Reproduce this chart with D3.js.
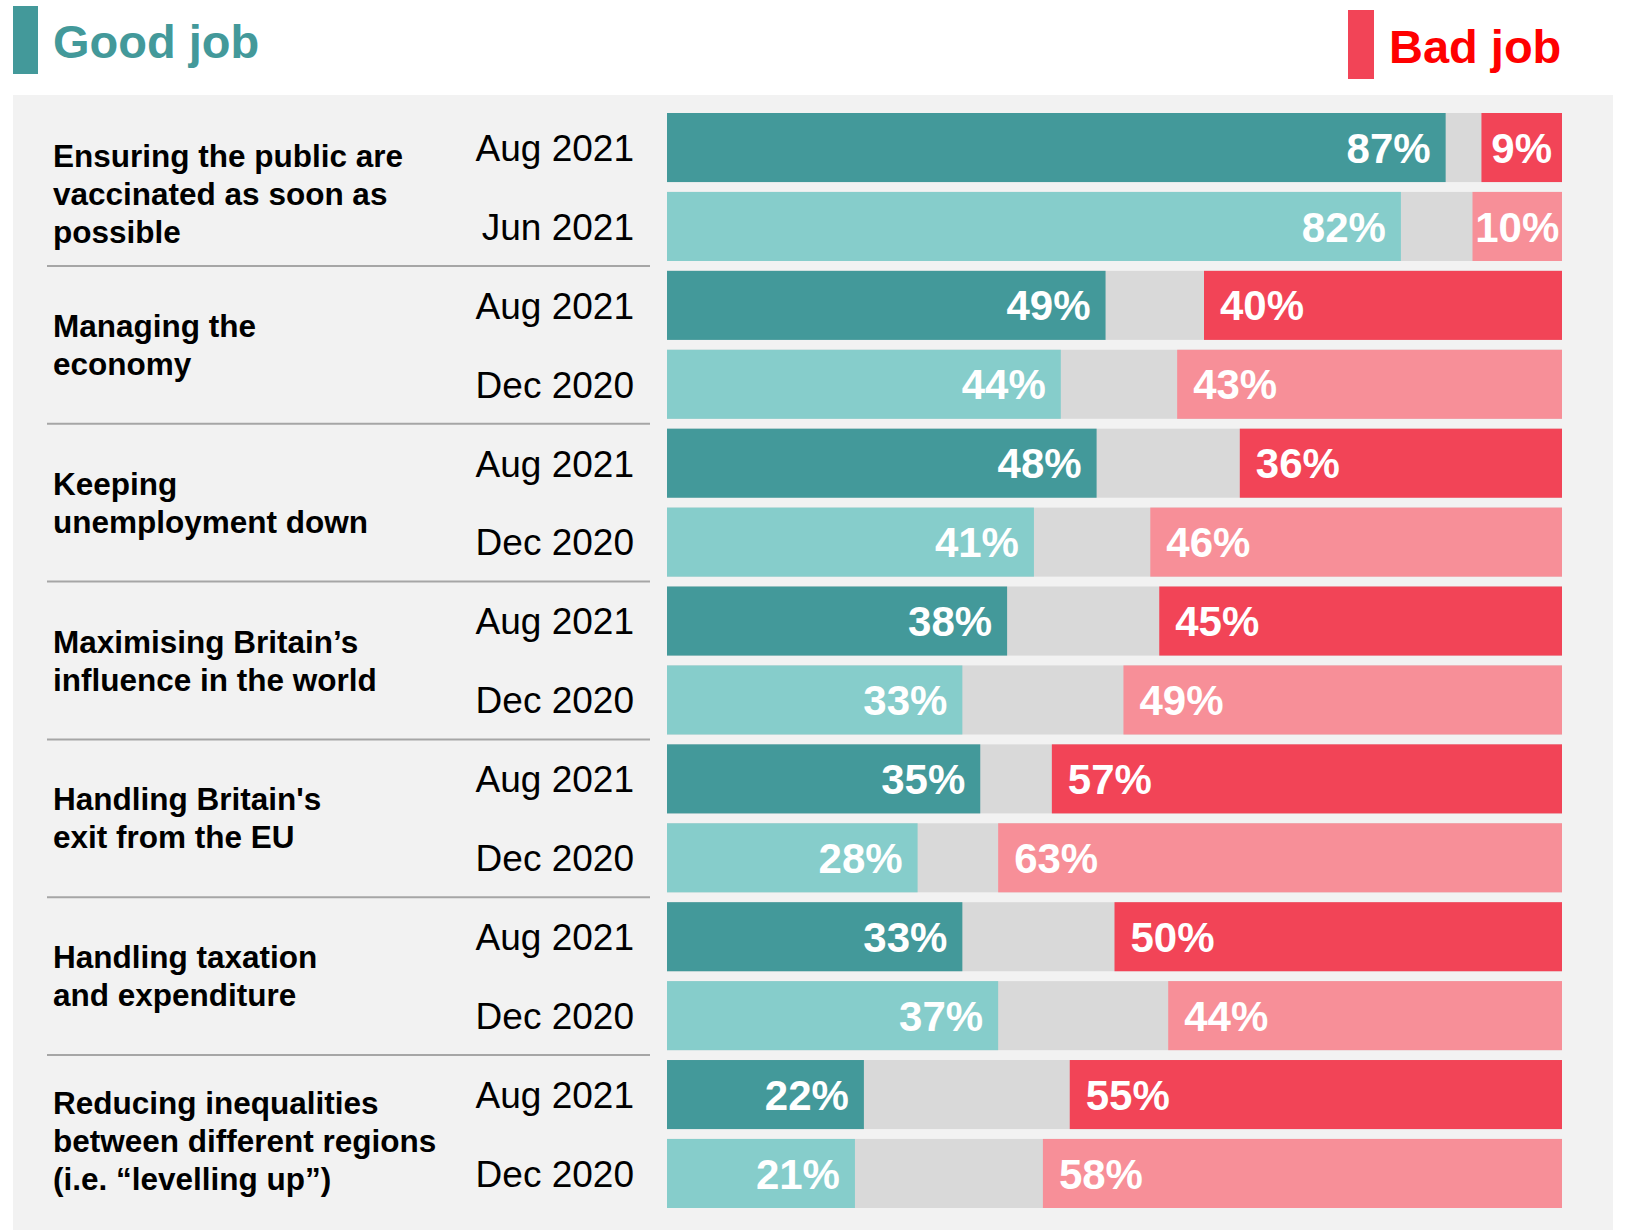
<!DOCTYPE html>
<html><head><meta charset="utf-8">
<script src="https://cdn.jsdelivr.net/npm/d3@7"></script>
<style>body{margin:0;background:#fff}svg{display:block}</style>
</head><body>
<svg id="c" width="1626" height="1230" font-family="Arial, 'Liberation Sans', Helvetica, sans-serif"></svg>
<script>
const categories = [
  ["Ensuring the public are","vaccinated as soon as","possible"],
  ["Managing the","economy"],
  ["Keeping","unemployment down"],
  ["Maximising Britain’s","influence in the world"],
  ["Handling Britain's","exit from the EU"],
  ["Handling taxation","and expenditure"],
  ["Reducing inequalities","between different regions","(i.e. “levelling up”)"]
];
const latestWave = ["Aug 2021","Aug 2021","Aug 2021","Aug 2021","Aug 2021","Aug 2021","Aug 2021"];
const earlierWave = ["Jun 2021","Dec 2020","Dec 2020","Dec 2020","Dec 2020","Dec 2020","Dec 2020"];
const goodLatest = [87,49,48,38,35,33,22];
const badLatest  = [9,40,36,45,57,50,55];
const goodEarlier = [82,44,41,33,28,37,21];
const badEarlier  = [10,43,46,49,63,44,58];

const rows = [];
categories.forEach((c,i)=>{
  rows.push({id:i+"a", cat:i, wave:latestWave[i], good:goodLatest[i], bad:badLatest[i], latest:true});
  rows.push({id:i+"b", cat:i, wave:earlierWave[i], good:goodEarlier[i], bad:badEarlier[i], latest:false});
});

const C = {goodD:"#43999A", goodL:"#86CDCB", badD:"#F24457", badL:"#F78F98", neither:"#D9D9D9", panel:"#F2F2F2", sep:"#A6A6A6"};
const svg = d3.select("#c");
const x = d3.scaleLinear().domain([0,100]).range([667,1562]);
const y = d3.scaleBand().domain(rows.map(r=>r.id)).range([113,1208]).paddingInner(0.125).paddingOuter(0);
const bw = y.bandwidth();

// legend
svg.append("rect").attr("x",13).attr("y",6).attr("width",25).attr("height",68).attr("fill",C.goodD);
svg.append("text").attr("x",53).attr("y",58).attr("font-size",47).attr("font-weight","bold").attr("fill",C.goodD).text("Good job");
svg.append("rect").attr("x",1348).attr("y",10).attr("width",26).attr("height",69).attr("fill",C.badD);
svg.append("text").attr("x",1389).attr("y",63).attr("font-size",47).attr("font-weight","bold").attr("fill","#FF0000").text("Bad job");

// panel
svg.append("rect").attr("x",13).attr("y",95).attr("width",1600).attr("height",1135).attr("fill",C.panel);

// separators
for(let i=0;i<categories.length-1;i++){
  const yy = (y(i+"b")+bw + y((i+1)+"a"))/2;
  svg.append("line").attr("x1",47).attr("x2",650).attr("y1",yy).attr("y2",yy).attr("stroke",C.sep).attr("stroke-width",2);
}

// category labels
categories.forEach((lines,i)=>{
  const cy = (y(i+"a") + y(i+"b")+bw)/2 + (lines.length-2)*7;
  const lh = 38;
  const t = svg.append("text").attr("x",53).attr("font-size",31.5).attr("font-weight","bold").attr("fill","#000");
  lines.forEach((l,k)=>{
    t.append("tspan").attr("x",53).attr("y", cy + (k-(lines.length-1)/2)*lh + 11).text(l);
  });
});

// rows
const g = svg.append("g").selectAll("g").data(rows).join("g");
g.append("rect").attr("x",x(0)).attr("y",d=>y(d.id)).attr("width",x(100)-x(0)).attr("height",bw).attr("fill",C.neither);
g.append("rect").attr("x",x(0)).attr("y",d=>y(d.id)).attr("width",d=>x(d.good)-x(0)).attr("height",bw).attr("fill",d=>d.latest?C.goodD:C.goodL);
g.append("rect").attr("x",d=>x(100-d.bad)).attr("y",d=>y(d.id)).attr("width",d=>x(100)-x(100-d.bad)).attr("height",bw).attr("fill",d=>d.latest?C.badD:C.badL);

g.append("text").attr("x",634).attr("y",d=>y(d.id)+bw/2).attr("dy","0.36em").attr("text-anchor","end")
  .attr("font-size",37).attr("fill","#000").text(d=>d.wave);

g.append("text").attr("x",d=>x(d.good)-15).attr("y",d=>y(d.id)+bw/2).attr("dy","0.36em").attr("text-anchor","end")
  .attr("font-size",42).attr("font-weight","bold").attr("fill","#fff").text(d=>d.good+"%");

g.append("text").attr("y",d=>y(d.id)+bw/2).attr("dy","0.36em")
  .attr("font-size",42).attr("font-weight","bold").attr("fill","#fff").text(d=>d.bad+"%")
  .each(function(d){
    const el=d3.select(this);
    const w=this.getComputedTextLength();
    const x0=x(100-d.bad), x1=x(100);
    if(x1-x0-16 < w+4){ el.attr("x",(x0+x1)/2).attr("text-anchor","middle"); }
    else { el.attr("x",x0+16).attr("text-anchor","start"); }
  });
</script>
</body></html>
